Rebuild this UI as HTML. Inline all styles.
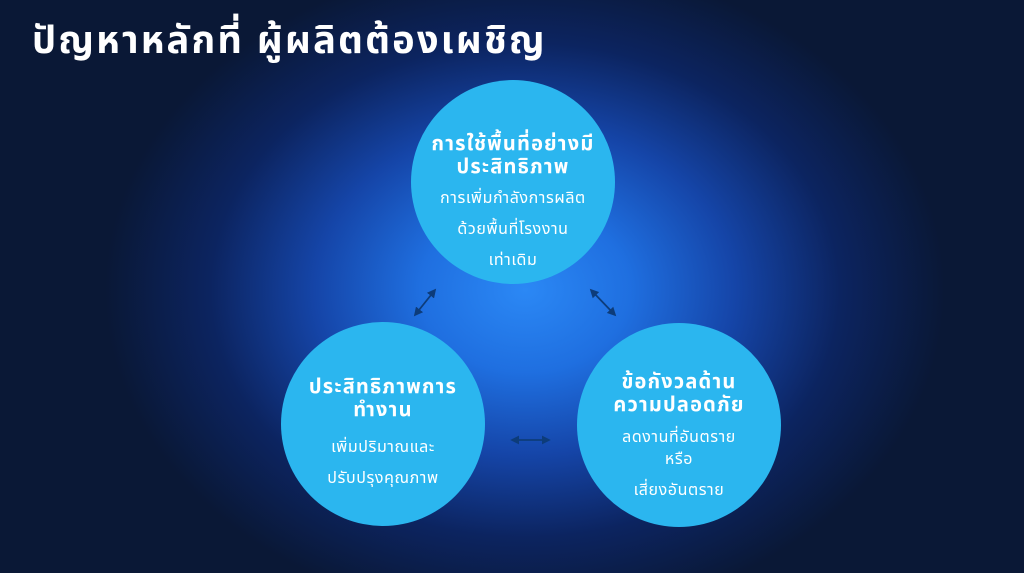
<!DOCTYPE html>
<html><head><meta charset="utf-8"><style>
body{margin:0;width:1024px;height:573px;overflow:hidden;font-family:"Liberation Sans","Noto Sans Thai","Tlwg Typo",sans-serif;
background:radial-gradient(ellipse 420px 330px at 525px 290px,#2b88f5 0%,#1f6fe0 25%,#1545a8 50%,#0c2460 75%,#0a1836 100%),#0a1836;position:relative}
h1{position:absolute;left:32px;top:14px;margin:0;color:#fff;font-size:38px;font-weight:bold;letter-spacing:2.2px}
.c{position:absolute;width:204px;height:204px;border-radius:50%;background:#2bb6ef;color:#fff;text-align:center;display:flex;flex-direction:column;justify-content:center;align-items:center;box-sizing:border-box}
.t{font-size:20px;font-weight:bold;line-height:23px;letter-spacing:1.2px;white-space:nowrap}
.s{font-size:16px;line-height:31px;margin-top:4px;letter-spacing:0.6px;white-space:nowrap}
svg{position:absolute;left:0;top:0}
</style></head><body>
<h1>ปัญหาหลักที่ ผู้ผลิตต้องเผชิญ</h1>
<div class="c" style="left:411px;top:80px;padding-top:44px"><div class="t">การใช้พื้นที่อย่างมี<br>ประสิทธิภาพ</div><div class="s">การเพิ่มกำลังการผลิต<br>ด้วยพื้นที่โรงงาน<br>เท่าเดิม</div></div>
<div class="c" style="left:281px;top:322px;padding-top:22px"><div class="t">ประสิทธิภาพการ<br>ทำงาน</div><div class="s" style="margin-top:10px">เพิ่มปริมาณและ<br>ปรับปรุงคุณภาพ</div></div>
<div class="c" style="left:577px;top:323px;padding-top:32px"><div class="t">ข้อกังวลด้าน<br>ความปลอดภัย</div><div class="s" style="line-height:22px;margin-top:10px">ลดงานที่อันตราย<br>หรือ<br><span style="line-height:40px">เสี่ยงอันตราย</span></div></div>
<svg width="1024" height="573"><defs><marker id="a" markerWidth="5" markerHeight="5" refX="4" refY="2.5" orient="auto-start-reverse"><path d="M0,0L5,2.5L0,5z" fill="#0d3c7a"/></marker></defs>
<g stroke="#0d3c7a" stroke-width="1.8" marker-start="url(#a)" marker-end="url(#a)">
<line x1="435" y1="290" x2="415" y2="315"/><line x1="591" y1="290" x2="615" y2="315"/><line x1="512" y1="440" x2="549" y2="440"/></g></svg>
</body></html>
